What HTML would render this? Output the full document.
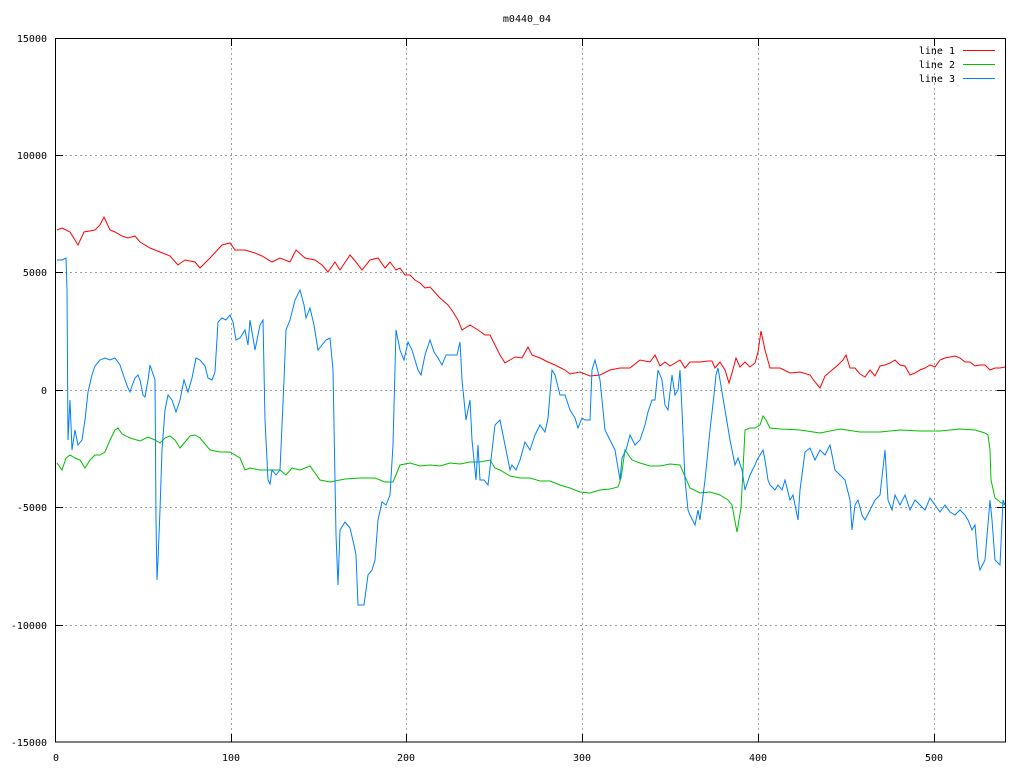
<!DOCTYPE html>
<html><head><meta charset="utf-8"><style>
html,body{margin:0;padding:0;background:#fff;}
text{font-family:"DejaVu Sans Mono","Liberation Mono",monospace;font-size:10px;fill:#000;}
</style></head><body>
<svg width="1024" height="768" xmlns="http://www.w3.org/2000/svg">
<rect width="1024" height="768" fill="#fff"/>
<g stroke="#a0a0a0" stroke-dasharray="2,3" stroke-width="1">
<line x1="55" y1="155.5" x2="1005" y2="155.5"/><line x1="55" y1="272.5" x2="1005" y2="272.5"/>
<line x1="55" y1="390.5" x2="1005" y2="390.5"/><line x1="55" y1="507.5" x2="1005" y2="507.5"/>
<line x1="55" y1="625.5" x2="1005" y2="625.5"/>
<line x1="231.5" y1="38" x2="231.5" y2="742"/><line x1="406.5" y1="38" x2="406.5" y2="742"/>
<line x1="582.5" y1="38" x2="582.5" y2="742"/><line x1="758.5" y1="38" x2="758.5" y2="742"/>
<line x1="934.5" y1="38" x2="934.5" y2="742"/>
</g>
<g stroke="#000" stroke-width="1">
<rect x="55.5" y="38.5" width="950" height="703.5" fill="none"/>
<path d="M55 155.5h8M55 272.5h8M55 390.5h8M55 507.5h8M55 625.5h8M997 155.5h8M997 272.5h8M997 390.5h8M997 507.5h8M997 625.5h8M231.5 742v-8M406.5 742v-8M582.5 742v-8M758.5 742v-8M934.5 742v-8M231.5 38v8M406.5 38v8M582.5 38v8M758.5 38v8M934.5 38v8"/>
</g>
<g text-anchor="end">
<text x="47" y="42">15000</text><text x="47" y="159">10000</text><text x="47" y="276">5000</text>
<text x="47" y="394">0</text><text x="47" y="511">-5000</text><text x="47" y="629">-10000</text><text x="47" y="746">-15000</text>
</g>
<g text-anchor="middle">
<text x="56" y="761">0</text><text x="231" y="761">100</text><text x="406" y="761">200</text>
<text x="582" y="761">300</text><text x="758" y="761">400</text><text x="934" y="761">500</text>
<text x="527" y="22">m0440_04</text>
</g>
<g text-anchor="end"><text x="955" y="54">line 1</text><text x="955" y="68">line 2</text><text x="955" y="82">line 3</text></g>
<line x1="963" y1="50.5" x2="995" y2="50.5" stroke="#ff0000"/>
<line x1="963" y1="64.5" x2="995" y2="64.5" stroke="#00c000"/>
<line x1="963" y1="78.5" x2="995" y2="78.5" stroke="#0080ff"/>
<g fill="none" stroke-width="1">
<polyline stroke="#ff0000" points="57,230 62,228 70,232 78,245 84,232 95,230 100,225 104,217 110,230 115,232 122,236 128,238 135,236 140,242 150,248 160,252 170,256 178,265 185,260 195,262 200,268 210,258 222,245 230,243 235,250 245,250 255,253 262,256 272,262 280,258 290,262 296,250 305,258 315,260 322,265 328,272 335,262 340,270 350,255 356,262 362,270 370,260 378,258 385,268 390,262 396,270 400,268 405,275 410,275 415,280 420,283 425,288 430,287 440,298 448,305 453,312 458,320 462,330 470,325 478,330 485,335 490,335 495,345 500,355 505,363 510,360 515,357 522,358 528,347 532,355 540,358 548,362 555,365 565,370 570,374 580,372 590,376 600,375 610,370 620,368 630,368 640,360 650,362 655,355 660,366 665,362 670,366 680,360 685,368 690,362 700,362 708,361 712,361 715,368 720,362 725,370 729,383 732,373 736,358 740,367 745,362 750,367 755,363 758,352 761,331 765,350 770,368 780,368 790,373 800,372 810,375 815,382 820,388 825,376 832,370 838,365 843,360 846,355 850,368 855,368 860,374 865,377 870,370 875,376 880,366 885,365 890,363 895,360 900,365 905,366 910,375 915,373 920,370 925,368 930,365 935,367 940,360 945,358 950,357 955,356 960,358 965,362 970,362 975,366 980,365 985,365 990,370 995,368 1000,368 1005,367"/>
<polyline stroke="#00c000" points="57,463 62,470 66,458 70,455 75,458 80,460 85,468 90,460 95,455 100,455 105,452 110,440 112,436 115,430 118,428 122,434 130,438 140,441 148,437 155,440 160,443 165,438 170,436 175,440 180,448 185,442 190,436 195,435 200,438 210,450 220,452 230,452 240,458 245,470 250,468 260,470 270,470 280,470 286,475 292,468 300,470 310,466 320,480 330,482 345,479 360,478 375,478 385,482 393,482 400,465 410,463 420,466 430,465 440,466 450,463 460,464 470,462 480,462 490,460 495,468 500,470 510,476 520,478 530,478 540,481 550,481 560,485 570,488 580,492 590,493 600,490 610,489 618,487 621,478 625,450 632,460 640,463 650,466 660,466 670,464 680,465 690,488 700,493 710,492 720,495 728,500 732,505 737,532 741,508 743,470 745,430 750,428 755,428 760,425 763,416 766,420 770,428 780,429 800,430 820,433 840,429 860,432 880,432 900,430 920,431 940,431 960,429 975,430 985,433 988,435 990,450 991,480 995,498 1000,502 1005,505"/>
<polyline stroke="#0080ff" points="57,260 62,260 66,258 67,290 68,440 70,400 72,450 75,430 78,445 82,440 85,420 88,392 92,375 95,366 100,360 105,358 110,360 115,358 120,365 125,380 128,388 130,392 132,386 135,378 138,375 140,380 143,395 145,397 148,380 150,365 155,380 156,520 157,580 158,560 160,510 162,450 165,410 168,395 172,400 176,412 180,400 184,380 188,392 192,378 196,358 200,360 205,366 208,378 212,380 215,372 218,322 222,318 226,320 230,315 233,322 236,340 240,338 245,330 248,345 250,320 255,350 260,325 263,320 265,420 268,480 270,484 272,470 276,475 280,470 284,380 286,330 290,320 295,300 300,290 304,305 306,318 310,308 314,325 318,350 322,345 326,340 330,338 333,370 336,535 338,585 340,530 345,522 350,528 354,545 356,555 358,605 364,605 368,575 372,570 375,560 378,520 382,502 386,505 390,495 393,445 396,330 400,350 404,360 408,342 412,350 418,370 421,375 425,355 430,340 434,352 438,358 442,365 446,355 452,355 457,355 460,342 462,380 466,420 468,410 470,400 472,440 476,480 478,445 480,480 484,480 488,485 490,468 495,425 500,420 505,445 510,470 512,465 516,470 520,460 525,442 530,450 535,435 540,425 545,432 548,418 552,370 555,375 560,395 565,395 570,410 575,418 578,428 582,418 585,420 590,420 592,370 595,360 600,380 605,430 610,440 615,450 620,480 622,458 626,450 630,435 635,445 640,440 645,425 648,412 652,400 655,400 658,370 660,375 662,380 665,405 668,410 672,375 675,395 678,390 680,370 682,410 685,480 688,510 690,515 695,525 698,510 700,520 705,480 710,430 714,395 716,375 718,368 720,380 725,410 730,440 735,465 738,458 742,470 745,490 750,475 755,465 757,460 760,455 763,450 765,460 768,480 770,485 775,490 778,485 782,490 785,480 790,500 793,495 798,520 800,490 805,452 810,448 815,460 820,450 825,455 830,445 835,470 840,475 845,480 850,500 852,530 855,505 858,500 862,515 865,520 870,510 875,500 880,495 885,450 888,500 892,510 895,495 900,505 905,495 910,510 915,500 920,505 925,510 930,498 935,505 940,512 945,505 950,512 955,515 960,510 965,515 968,520 972,530 975,525 978,560 980,570 985,560 990,500 992,520 995,560 1000,565 1003,500 1005,505"/>
</g>
</svg>
</body></html>
